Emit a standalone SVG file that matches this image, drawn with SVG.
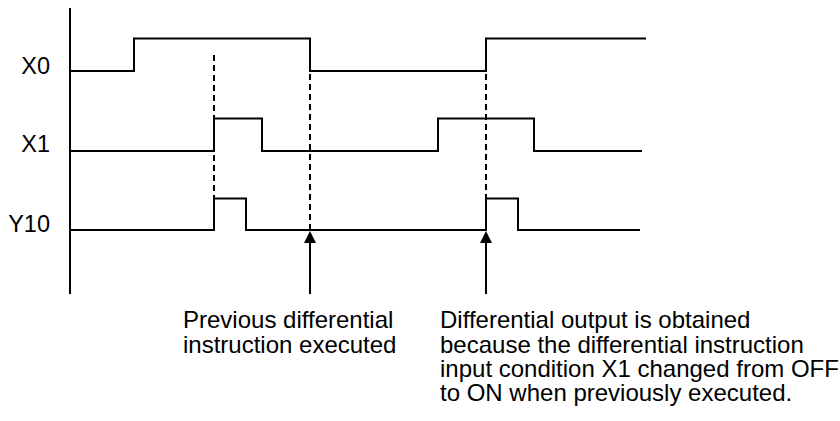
<svg xmlns="http://www.w3.org/2000/svg" width="840" height="421" viewBox="0 0 840 421">
<style>
  .sig { fill: none; stroke: #000; stroke-width: 2; stroke-linejoin: miter; stroke-linecap: butt; }
  .dash { fill: none; stroke: #000; stroke-width: 2; stroke-dasharray: 6 4; }
  .lbl { font-family: "Liberation Sans", Arial, sans-serif; font-size: 23.5px; fill: #000; }
  .note { font-family: "Liberation Sans", Arial, sans-serif; font-size: 24px; fill: #000; }
  .arr { fill: none; stroke: #000; stroke-width: 2; }
</style>
<defs>
  <marker id="ah" markerWidth="12" markerHeight="12" viewBox="0 0 12 12" refX="6" refY="0.5" orient="auto-start-reverse" markerUnits="userSpaceOnUse">
    <path d="M0,12 L6,0 L12,12 Z" fill="#000"/>
  </marker>
</defs>
<rect width="840" height="421" fill="#fff"/>

<g id="axis">
  <line x1="70" y1="8" x2="70" y2="294" class="sig"/>
</g>

<g id="guides">
  <line x1="214" y1="55" x2="214" y2="198" class="dash"/>
  <line x1="310" y1="74" x2="310" y2="230" class="dash"/>
  <line x1="486" y1="74" x2="486" y2="198" class="dash"/>
</g>

<g id="X0">
  <text x="50" y="74" class="lbl" text-anchor="end">X0</text>
  <path class="sig" d="M70,71 H134 V38.5 H310 V71 H486 V38.5 H646"/>
</g>

<g id="X1">
  <text x="50" y="152" class="lbl" text-anchor="end">X1</text>
  <path class="sig" d="M70,151 H214 V118.5 H262 V151 H438 V118.5 H534 V151 H642"/>
</g>

<g id="Y10">
  <text x="50" y="232" class="lbl" text-anchor="end">Y10</text>
  <path class="sig" d="M70,230 H214 V198.5 H246 V230 H486 V198.5 H518 V230 H640"/>
</g>

<g id="connectors">
  <line x1="310" y1="294" x2="310" y2="243" class="arr"/>
  <path d="M310,231 L304,243 L316,243 Z" fill="#000"/>
  <line x1="486" y1="294" x2="486" y2="243" class="arr"/>
  <path d="M486,231 L480,243 L492,243 Z" fill="#000"/>
</g>

<g id="note-previous">
  <text class="note" x="183" y="328">Previous differential</text>
  <text class="note" x="183" y="352.5">instruction executed</text>
</g>

<g id="note-differential">
  <text class="note" x="440" y="328">Differential output is obtained</text>
  <text class="note" x="440" y="352.5">because the differential instruction</text>
  <text class="note" x="440" y="377">input condition X1 changed from OFF</text>
  <text class="note" x="440" y="401">to ON when previously executed.</text>
</g>
</svg>
